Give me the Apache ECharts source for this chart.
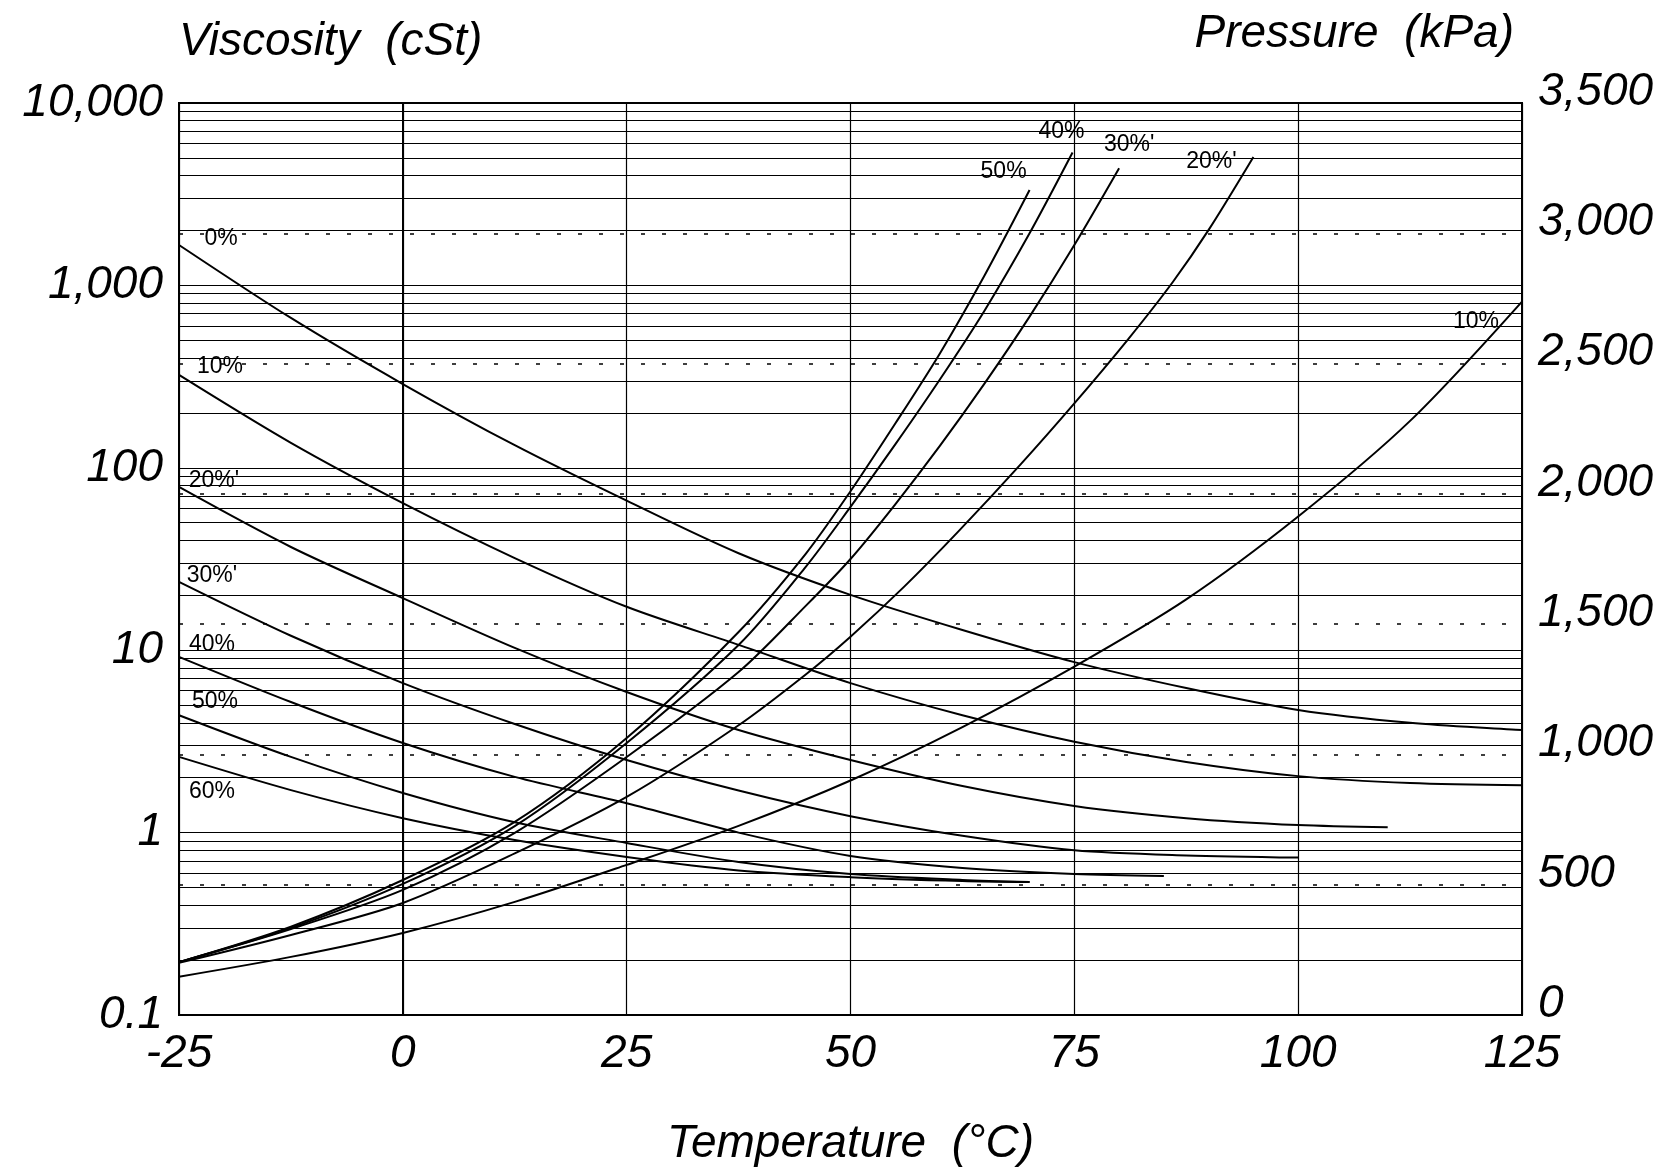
<!DOCTYPE html>
<html>
<head>
<meta charset="utf-8">
<title>Viscosity and pressure vs temperature</title>
<script src="https://cdn.jsdelivr.net/npm/echarts@6/dist/echarts.min.js"></script>
<style>
    html, body { margin: 0; padding: 0; background: #fff; }
    #chart { width: 1671px; height: 1169px; }
</style>
</head>
<body>
<div id="chart"></div>
<script>
// viscosity curves (cSt), [temperature °C, value]
const visc0 = [[-25, 1666], [-12.5, 663], [0, 288], [12.5, 133], [25, 66], [37.5, 34], [50, 20.1], [62.5, 12.9], [75, 8.6], [87.5, 6.2], [100, 4.7], [112.5, 4.0], [125, 3.65]]
const visc10 = [[-25, 323], [-12.5, 137], [0, 64], [12.5, 32], [25, 17.3], [37.5, 10.7], [50, 6.6], [62.5, 4.4], [75, 3.15], [87.5, 2.44], [100, 2.04], [112.5, 1.87], [125, 1.82]]
const visc20 = [[-25, 78.5], [-12.5, 36.8], [0, 19.3], [12.5, 10.3], [25, 5.9], [37.5, 3.65], [50, 2.5], [62.5, 1.8], [75, 1.4], [87.5, 1.2], [100, 1.1], [110, 1.07]]
const visc30 = [[-25, 23.7], [-12.5, 12], [0, 6.6], [12.5, 3.94], [25, 2.5], [37.5, 1.7], [50, 1.23], [62.5, 0.96], [75, 0.8], [87.5, 0.75], [100, 0.73]]
const visc40 = [[-25, 9.2], [-12.5, 5.2], [0, 3.1], [12.5, 2.02], [25, 1.45], [37.5, 1.0], [50, 0.745], [62.5, 0.64], [75, 0.593], [85, 0.578]]
const visc50 = [[-25, 4.4], [-12.5, 2.6], [0, 1.65], [12.5, 1.14], [25, 0.877], [37.5, 0.69], [50, 0.593], [62.5, 0.55], [70, 0.536]]
const visc60 = [[-25, 2.6], [-12.5, 1.71], [0, 1.2], [12.5, 0.91], [25, 0.735], [37.5, 0.62], [50, 0.57], [62.5, 0.543], [70, 0.536]]
const viscLabels = ['0%', '10%', "20%'", "30%'", '40%', '50%', '60%']

// pressure curves (kPa), [temperature °C, value]
const pres50 = [[-25, 203], [-12.5, 339], [0, 518], [12.5, 741], [25, 1063], [37.5, 1470], [45, 1770], [50, 2010], [55, 2270], [60, 2540], [65, 2840], [70, 3166]]
const pres40 = [[-25, 203], [-12.5, 334], [0, 503], [12.5, 725], [25, 1044], [37.5, 1420], [45, 1720], [50, 1950], [55, 2190], [60, 2440], [65, 2705], [70, 3000], [74.8, 3310]]
const pres30 = [[-25, 203], [-12.5, 330], [0, 480], [12.5, 699], [25, 990], [37.5, 1316], [45, 1570], [50, 1750], [55, 1960], [60, 2185], [65, 2425], [70, 2680], [75, 2955], [80, 3250]]
const pres20 = [[-25, 200], [-12.5, 307], [0, 430], [12.5, 620], [25, 837], [37.5, 1112], [45, 1307], [50, 1452], [56, 1644], [62, 1854], [69, 2113], [75, 2347], [81, 2593], [86, 2813], [90, 3013], [95, 3293]]
const pres10 = [[-25, 147], [-12.5, 223], [0, 315], [12.5, 434], [25, 576], [37.5, 726], [50, 900], [62.5, 1105], [75, 1337], [87.5, 1595], [100, 1913], [112.5, 2280], [125, 2738]]
const presLabels = ['50%', '40%', "30%'", "20%'", '10%']

// log grid: decades and the minor steps inside each
const decadeStarts = [0.1, 1, 10, 100, 1000]
const minorSteps = [2, 3, 4, 5, 6, 7, 8, 9]

const font = "'Liberation Sans', Arial, Helvetica, sans-serif"
const black = '#000'

// where the curve labels sit, relative to the first / last point (px)
const viscLabelOffsets = [[42, -6], [41, -8], [35, -6], [33, -6], [33, -12], [36, -14], [33, 35]]
const presLabelOffsets = [[-26, -18], [-11, -21], [10, -23], [-42, 5], [-46, 20]]

const bigText = { fontFamily: font, fontSize: 46, fontStyle: 'italic', fontWeight: 'normal', color: black }

const makeCurve = (data, yAxisIndex, text, anchor, offset) => ({
    type: 'line',
    yAxisIndex,
    data,
    symbol: 'none',
    smooth: 0.3,
    silent: true,
    lineStyle: { color: black, width: 2 },
    z: 5,
    markPoint: {
        symbol: 'circle',
        symbolSize: 0,
        silent: true,
        label: {
            show: true,
            formatter: text,
            offset,
            color: black,
            fontFamily: font,
            fontSize: 23
        },
        data: [{ coord: anchor }]
    }
})

const viscCurves = [visc0, visc10, visc20, visc30, visc40, visc50, visc60]
const presCurves = [pres50, pres40, pres30, pres20, pres10]

const series = [
    ...viscCurves.map((d, i) => makeCurve(d, 0, viscLabels[i], d[0], viscLabelOffsets[i])),
    ...presCurves.map((d, i) => makeCurve(d, 1, presLabels[i], d[d.length - 1], presLabelOffsets[i]))
]

// minor horizontal lines of the log scale
const minorLevels = []
decadeStarts.forEach(d => minorSteps.forEach(s => minorLevels.push(+(d * s).toPrecision(3))))
series[0].markLine = {
    silent: true,
    symbol: ['none', 'none'],
    label: { show: false },
    lineStyle: { color: black, width: 1.2, type: 'solid' },
    emphasis: { disabled: true },
    data: minorLevels.map(v => ({ yAxis: v }))
}

const myChart = echarts.init(document.getElementById('chart'))
myChart.setOption({
    animation: false,
    backgroundColor: '#fff',
    // left axis title, kept as a title so it lines up with the plot edge
    title: {
        text: 'Viscosity  (cSt)',
        left: 179,
        top: 19,
        padding: 0,
        textStyle: bigText
    },
    grid: {
        left: 179,
        right: 149,
        top: 103,
        bottom: 154,
        show: true,
        borderColor: black,
        borderWidth: 2,
        outerBoundsMode: 'none'
    },
    xAxis: {
        type: 'value',
        min: -25,
        max: 125,
        interval: 25,
        name: 'Temperature  (°C)',
        nameLocation: 'middle',
        nameGap: 106,
        nameTextStyle: bigText,
        axisLine: { show: true, onZero: false, lineStyle: { color: black, width: 2 } },
        axisTick: { show: false },
        axisLabel: { ...bigText, margin: 16 },
        splitLine: { show: true, lineStyle: { color: black, width: 1.2 } }
    },
    yAxis: [
        {
            type: 'log',
            logBase: 10,
            min: 0.1,
            max: 10000,
            axisLine: { show: true, lineStyle: { color: black, width: 2 } },
            axisTick: { show: false },
            axisLabel: {
                ...bigText,
                margin: 16,
                formatter: v => v.toLocaleString('en-US', { maximumFractionDigits: 1 })
            },
            splitLine: { show: true, lineStyle: { color: black, width: 1.2 } }
        },
        {
            type: 'value',
            position: 'right',
            min: 0,
            max: 3500,
            interval: 500,
            name: 'Pressure  (kPa)',
            nameLocation: 'end',
            nameGap: 46,
            nameMoveOverlap: false,
            nameTextStyle: { ...bigText, align: 'right', padding: [0, 8, 0, 0] },
            axisLine: { show: true, lineStyle: { color: black, width: 2 } },
            axisTick: { show: false },
            axisLabel: {
                ...bigText,
                margin: 16,
                verticalAlign: 'bottom',
                lineHeight: 22,
                formatter: v => v.toLocaleString('en-US')
            },
            splitLine: { show: true, lineStyle: { color: black, width: 1.5, type: [4, 17] } }
        }
    ],
    series
})
</script>
</body>
</html>
